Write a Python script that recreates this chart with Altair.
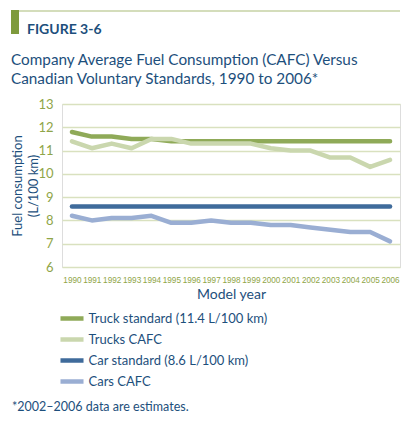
import altair as alt
import pandas as pd

years = list(range(1990, 2007))
truck_standard = [11.8, 11.6, 11.6, 11.5, 11.5, 11.4, 11.4, 11.4, 11.4, 11.4, 11.4, 11.4, 11.4, 11.4, 11.4, 11.4, 11.4]
trucks_cafc = [11.4, 11.1, 11.3, 11.1, 11.5, 11.5, 11.3, 11.3, 11.3, 11.3, 11.1, 11.0, 11.0, 10.7, 10.7, 10.3, 10.6]
car_standard = [8.6] * 17
cars_cafc = [8.2, 8.0, 8.1, 8.1, 8.2, 7.9, 7.9, 8.0, 7.9, 7.9, 7.8, 7.8, 7.7, 7.6, 7.5, 7.5, 7.1]

series_names = ["Truck standard (11.4 L/100 km)", "Trucks CAFC", "Car standard (8.6 L/100 km)", "Cars CAFC"]
series_colors = ["#8FAA58", "#CAD7AE", "#3F6B9B", "#9AAED3"]
y_ticks = [6, 7, 8, 9, 10, 11, 12, 13]

TEXT_BLUE = "#1D4F7C"
TICK_GREEN = "#8FA548"
FONT = "Lato"

rows = []
for name, vals in zip(series_names, [truck_standard, trucks_cafc, car_standard, cars_cafc]):
    for yr, v in zip(years, vals):
        rows.append({"year": str(yr), "value": v, "series": name})
df = pd.DataFrame(rows)

lines = alt.Chart(df).mark_line(strokeWidth=4.5, strokeCap="round", strokeJoin="round").encode(
    x=alt.X("year:O", title="Model year",
            scale=alt.Scale(type="point", padding=0.5),
            axis=alt.Axis(labelAngle=0, domain=False, ticks=False, labelPadding=9,
                          labelFont="Liberation Sans", labelFontSize=8.2,
                          labelColor=TICK_GREEN, labelOverlap=False,
                          titleFont=FONT, titleFontSize=14,
                          titleFontWeight="normal", titleColor=TEXT_BLUE, titlePadding=4)),
    y=alt.Y("value:Q", title=["Fuel consumption", "(L/100 km)"],
            scale=alt.Scale(domain=[6, 13], nice=False, zero=False),
            axis=alt.Axis(values=y_ticks, domain=False, ticks=False, labelPadding=9,
                          labelFont=FONT, labelFontSize=13, labelColor=TICK_GREEN,
                          grid=True, gridColor="#D9E1BF", gridWidth=1.5,
                          titleFont=FONT, titleFontSize=13, titleFontWeight="normal",
                          titleColor=TEXT_BLUE, titlePadding=-3, titleLineHeight=16)),
    color=alt.Color("series:N", sort=series_names,
                    scale=alt.Scale(domain=series_names, range=series_colors),
                    legend=alt.Legend(title=None, orient="none", legendX=-1.5, legendY=203,
                                      symbolType="M-1.28,0H1.28", symbolSize=324,
                                      symbolStrokeWidth=4.5, symbolFillColor="transparent",
                                      labelFont=FONT, labelFontSize=13, labelColor=TEXT_BLUE,
                                      labelOffset=5, rowPadding=0, labelLimit=320,
                                      symbolLimit=0)),
    order=alt.Order("year:O"),
)

def text_layer(txt, x, y, size, bold=False, color=TEXT_BLUE):
    return alt.Chart(pd.DataFrame({"t": [txt]})).mark_text(
        align="left", baseline="alphabetic", font=FONT, fontSize=size,
        fontWeight="bold" if bold else "normal", color=color
    ).encode(x=alt.value(x), y=alt.value(y), text="t:N")

one = pd.DataFrame({"k": [0]})
bar = alt.Chart(one).mark_rule(color="#7E9A3C", strokeWidth=8).encode(
    x=alt.value(-47), y=alt.value(-94), y2=alt.value(-70))
topline = alt.Chart(one).mark_rule(color="#A9BC78", strokeWidth=1.2).encode(
    x=alt.value(-43), x2=alt.value(338), y=alt.value(-93))

fig = text_layer("FIGURE 3-6", -35, -70.5, 14, bold=True)
t1 = text_layer("Company Average Fuel Consumption (CAFC) Versus", -51, -39.5, 15.3)
t2 = text_layer("Canadian Voluntary Standards, 1990 to 2006*", -51, -20.5, 15.3)
foot = text_layer("*2002\u20132006 data are estimates.", -50, 307, 12.5)

chart = alt.layer(lines, bar, topline, fig, t1, t2, foot).properties(
    width=338, height=163,
    autosize=alt.AutoSizeParams(type="none"),
    padding={"left": 54, "top": 96, "right": 2, "bottom": 150},
).configure_view(stroke=None).configure(background="white")

chart.save("out.html", embed_options={"renderer": "svg", "actions": False})
